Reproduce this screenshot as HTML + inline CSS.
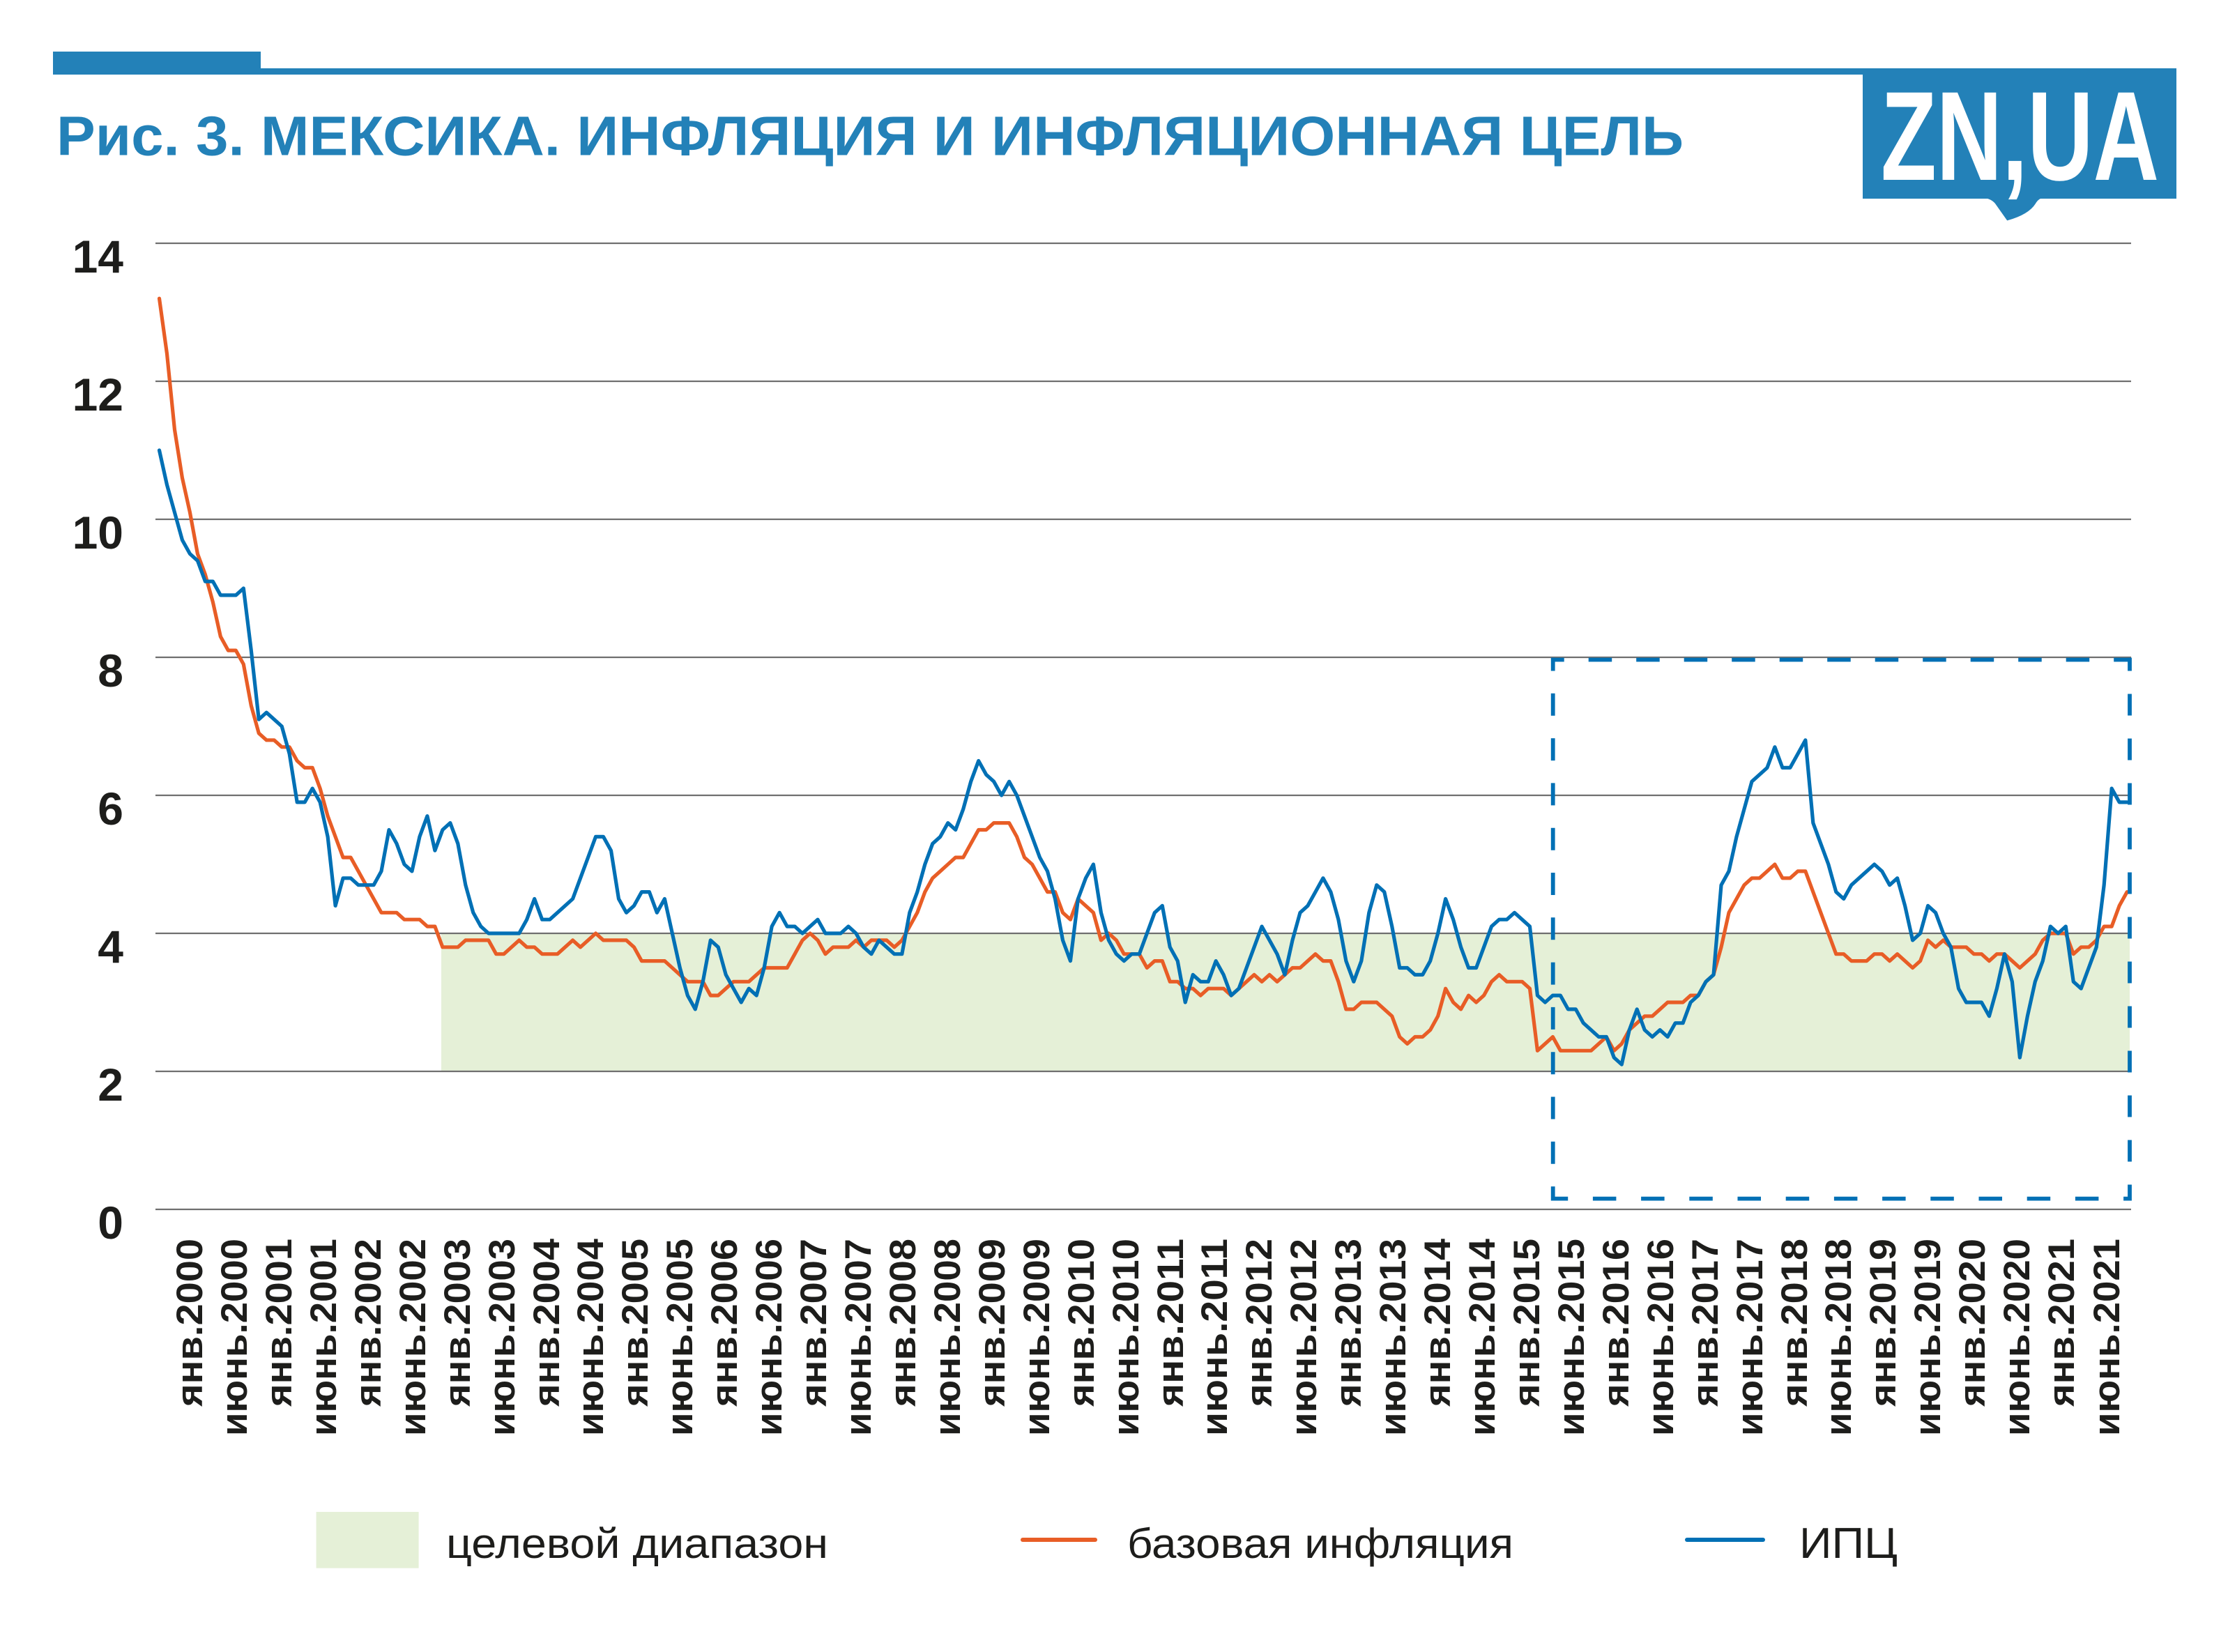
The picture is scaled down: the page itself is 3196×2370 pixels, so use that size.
<!DOCTYPE html>
<html>
<head>
<meta charset="utf-8">
<style>
  html, body { margin: 0; padding: 0; background: #ffffff; }
  svg { display: block; }
  text { font-family: "Liberation Sans", "DejaVu Sans", sans-serif; }
</style>
</head>
<body>
<svg xmlns="http://www.w3.org/2000/svg" width="3196" height="2370" viewBox="0 0 3196 2370">
  <rect x="0" y="0" width="3196" height="2370" fill="#ffffff"/>

  <!-- Header bar -->
  <rect x="76" y="74" width="298" height="33" fill="#2381b8"/>
  <rect x="76" y="98" width="3046" height="9" fill="#2381b8"/>

  <!-- Logo -->
  <rect x="2672" y="98" width="450" height="187" fill="#2381b8"/>
  <path d="M2846,284 Q2856,285 2862,292 L2879.2,316.4 Q2910,308 2920,292 Q2924,285 2930,284 Z" fill="#2381b8"/>
  <text x="2698" y="258" font-size="182" font-weight="bold" fill="#ffffff" textLength="399" lengthAdjust="spacingAndGlyphs">ZN,UA</text>

  <!-- Title -->
  <text x="81" y="222.6" font-size="80" font-weight="bold" fill="#2381b8" textLength="2334" lengthAdjust="spacingAndGlyphs">Рис. 3. МЕКСИКА. ИНФЛЯЦИЯ И ИНФЛЯЦИОННАЯ ЦЕЛЬ</text>

  <!-- Target range -->
  <rect x="633" y="1338.7" width="2422" height="198.3" fill="#e5f0d7"/>

  <!-- Gridlines -->
  <g stroke="#6f6f6f" stroke-width="2.2">
    <line x1="223" y1="349" x2="3057" y2="349"/>
    <line x1="223" y1="547" x2="3057" y2="547"/>
    <line x1="223" y1="745" x2="3057" y2="745"/>
    <line x1="223" y1="943" x2="3057" y2="943"/>
    <line x1="223" y1="1141" x2="3057" y2="1141"/>
    <line x1="223" y1="1339" x2="3057" y2="1339"/>
    <line x1="223" y1="1537" x2="3057" y2="1537"/>
    <line x1="223" y1="1735" x2="3057" y2="1735"/>
  </g>

  <!-- Y labels -->
  <g font-size="66" font-weight="bold" fill="#1d1d1b" text-anchor="end">
    <text x="177" y="391">14</text>
    <text x="177" y="589">12</text>
    <text x="177" y="787">10</text>
    <text x="177" y="985">8</text>
    <text x="177" y="1183">6</text>
    <text x="177" y="1381">4</text>
    <text x="177" y="1579">2</text>
    <text x="177" y="1777">0</text>
  </g>

  <!-- Series -->
  <g transform="matrix(10.983 0 0 -99 228.5 1735)" fill="none" stroke-linejoin="round" stroke-linecap="round">
    <polyline vector-effect="non-scaling-stroke" stroke="#e85d26" stroke-width="5.2" points="0,13.2 1,12.4 2,11.3 3,10.6 4,10.1 5,9.5 6,9.2 7,8.8 8,8.3 9,8.1 10,8.1 11,7.9 12,7.3 13,6.9 14,6.8 15,6.8 16,6.7 17,6.7 18,6.5 19,6.4 20,6.4 21,6.1 22,5.7 23,5.4 24,5.1 25,5.1 26,4.9 27,4.7 28,4.5 29,4.3 30,4.3 31,4.3 32,4.2 33,4.2 34,4.2 35,4.1 36,4.1 37,3.8 38,3.8 39,3.8 40,3.9 41,3.9 42,3.9 43,3.9 44,3.7 45,3.7 46,3.8 47,3.9 48,3.8 49,3.8 50,3.7 51,3.7 52,3.7 53,3.8 54,3.9 55,3.8 56,3.9 57,4.0 58,3.9 59,3.9 60,3.9 61,3.9 62,3.8 63,3.6 64,3.6 65,3.6 66,3.6 67,3.5 68,3.4 69,3.3 70,3.3 71,3.3 72,3.1 73,3.1 74,3.2 75,3.3 76,3.3 77,3.3 78,3.4 79,3.5 80,3.5 81,3.5 82,3.5 83,3.7 84,3.9 85,4.0 86,3.9 87,3.7 88,3.8 89,3.8 90,3.8 91,3.9 92,3.8 93,3.9 94,3.9 95,3.9 96,3.8 97,3.9 98,4.1 99,4.3 100,4.6 101,4.8 102,4.9 103,5.0 104,5.1 105,5.1 106,5.3 107,5.5 108,5.5 109,5.6 110,5.6 111,5.6 112,5.4 113,5.1 114,5.0 115,4.8 116,4.6 117,4.6 118,4.3 119,4.2 120,4.5 121,4.4 122,4.3 123,3.9 124,4.0 125,3.9 126,3.7 127,3.7 128,3.7 129,3.5 130,3.6 131,3.6 132,3.3 133,3.3 134,3.2 135,3.2 136,3.1 137,3.2 138,3.2 139,3.2 140,3.1 141,3.2 142,3.3 143,3.4 144,3.3 145,3.4 146,3.3 147,3.4 148,3.5 149,3.5 150,3.6 151,3.7 152,3.6 153,3.6 154,3.3 155,2.9 156,2.9 157,3.0 158,3.0 159,3.0 160,2.9 161,2.8 162,2.5 163,2.4 164,2.5 165,2.5 166,2.6 167,2.8 168,3.2 169,3.0 170,2.9 171,3.1 172,3.0 173,3.1 174,3.3 175,3.4 176,3.3 177,3.3 178,3.3 179,3.2 180,2.3 181,2.4 182,2.5 183,2.3 184,2.3 185,2.3 186,2.3 187,2.3 188,2.4 189,2.5 190,2.3 191,2.4 192,2.6 193,2.7 194,2.8 195,2.8 196,2.9 197,3.0 198,3.0 199,3.0 200,3.1 201,3.1 202,3.3 203,3.4 204,3.8 205,4.3 206,4.5 207,4.7 208,4.8 209,4.8 210,4.9 211,5.0 212,4.8 213,4.8 214,4.9 215,4.9 216,4.6 217,4.3 218,4.0 219,3.7 220,3.7 221,3.6 222,3.6 223,3.6 224,3.7 225,3.7 226,3.6 227,3.7 228,3.6 229,3.5 230,3.6 231,3.9 232,3.8 233,3.9 234,3.8 235,3.8 236,3.8 237,3.7 238,3.7 239,3.6 240,3.7 241,3.7 242,3.6 243,3.5 244,3.6 245,3.7 246,3.9 247,4.0 248,4.0 249,4.0 250,3.7 251,3.8 252,3.8 253,3.9 254,4.1 255,4.1 256,4.4 257,4.6"/>
    <polyline vector-effect="non-scaling-stroke" stroke="#0070b5" stroke-width="5.2" points="0,11.0 1,10.5 2,10.1 3,9.7 4,9.5 5,9.4 6,9.1 7,9.1 8,8.9 9,8.9 10,8.9 11,9.0 12,8.1 13,7.1 14,7.2 15,7.1 16,7.0 17,6.6 18,5.9 19,5.9 20,6.1 21,5.9 22,5.4 23,4.4 24,4.8 25,4.8 26,4.7 27,4.7 28,4.7 29,4.9 30,5.5 31,5.3 32,5.0 33,4.9 34,5.4 35,5.7 36,5.2 37,5.5 38,5.6 39,5.3 40,4.7 41,4.3 42,4.1 43,4.0 44,4.0 45,4.0 46,4.0 47,4.0 48,4.2 49,4.5 50,4.2 51,4.2 52,4.3 53,4.4 54,4.5 55,4.8 56,5.1 57,5.4 58,5.4 59,5.2 60,4.5 61,4.3 62,4.4 63,4.6 64,4.6 65,4.3 66,4.5 67,4.0 68,3.5 69,3.1 70,2.9 71,3.3 72,3.9 73,3.8 74,3.4 75,3.2 76,3.0 77,3.2 78,3.1 79,3.5 80,4.1 81,4.3 82,4.1 83,4.1 84,4.0 85,4.1 86,4.2 87,4.0 88,4.0 89,4.0 90,4.1 91,4.0 92,3.8 93,3.7 94,3.9 95,3.8 96,3.7 97,3.7 98,4.3 99,4.6 100,5.0 101,5.3 102,5.4 103,5.6 104,5.5 105,5.8 106,6.2 107,6.5 108,6.3 109,6.2 110,6.0 111,6.2 112,6.0 113,5.7 114,5.4 115,5.1 116,4.9 117,4.5 118,3.9 119,3.6 120,4.5 121,4.8 122,5.0 123,4.3 124,3.9 125,3.7 126,3.6 127,3.7 128,3.7 129,4.0 130,4.3 131,4.4 132,3.8 133,3.6 134,3.0 135,3.4 136,3.3 137,3.3 138,3.6 139,3.4 140,3.1 141,3.2 142,3.5 143,3.8 144,4.1 145,3.9 146,3.7 147,3.4 148,3.9 149,4.3 150,4.4 151,4.6 152,4.8 153,4.6 154,4.2 155,3.6 156,3.3 157,3.6 158,4.3 159,4.7 160,4.6 161,4.1 162,3.5 163,3.5 164,3.4 165,3.4 166,3.6 167,4.0 168,4.5 169,4.2 170,3.8 171,3.5 172,3.5 173,3.8 174,4.1 175,4.2 176,4.2 177,4.3 178,4.2 179,4.1 180,3.1 181,3.0 182,3.1 183,3.1 184,2.9 185,2.9 186,2.7 187,2.6 188,2.5 189,2.5 190,2.2 191,2.1 192,2.6 193,2.9 194,2.6 195,2.5 196,2.6 197,2.5 198,2.7 199,2.7 200,3.0 201,3.1 202,3.3 203,3.4 204,4.7 205,4.9 206,5.4 207,5.8 208,6.2 209,6.3 210,6.4 211,6.7 212,6.4 213,6.4 214,6.6 215,6.8 216,5.6 217,5.3 218,5.0 219,4.6 220,4.5 221,4.7 222,4.8 223,4.9 224,5.0 225,4.9 226,4.7 227,4.8 228,4.4 229,3.9 230,4.0 231,4.4 232,4.3 233,4.0 234,3.8 235,3.2 236,3.0 237,3.0 238,3.0 239,2.8 240,3.2 241,3.7 242,3.3 243,2.2 244,2.8 245,3.3 246,3.6 247,4.1 248,4.0 249,4.1 250,3.3 251,3.2 252,3.5 253,3.8 254,4.7 255,6.1 256,5.9 257,5.9"/>
  </g>

  <!-- Dashed highlight box -->
  <g stroke="#0070b5" stroke-width="5.8" fill="none" stroke-linecap="butt">
    <line x1="2227.7" y1="946.5" x2="3055" y2="946.5" stroke-dasharray="33.5 35" stroke-dashoffset="17.5"/>
    <line x1="2227.7" y1="1719.6" x2="3055" y2="1719.6" stroke-dasharray="33.5 35.7" stroke-dashoffset="12"/>
    <line x1="2227.7" y1="943.5" x2="2227.7" y2="1722.5" stroke-dasharray="32 32.3" stroke-dashoffset="13"/>
    <line x1="3055" y1="943.5" x2="3055" y2="1722.5" stroke-dasharray="31 33" stroke-dashoffset="12"/>
  </g>

  <!-- X labels -->
  <g font-size="53" font-weight="bold" fill="#1d1d1b" text-anchor="end">
    <text transform="translate(290,1777) rotate(-90)" textLength="241" lengthAdjust="spacingAndGlyphs">янв.2000</text>
    <text transform="translate(354,1777) rotate(-90)" textLength="283" lengthAdjust="spacingAndGlyphs">июнь.2000</text>
    <text transform="translate(418,1777) rotate(-90)" textLength="241" lengthAdjust="spacingAndGlyphs">янв.2001</text>
    <text transform="translate(482,1777) rotate(-90)" textLength="283" lengthAdjust="spacingAndGlyphs">июнь.2001</text>
    <text transform="translate(546,1777) rotate(-90)" textLength="241" lengthAdjust="spacingAndGlyphs">янв.2002</text>
    <text transform="translate(610,1777) rotate(-90)" textLength="283" lengthAdjust="spacingAndGlyphs">июнь.2002</text>
    <text transform="translate(674,1777) rotate(-90)" textLength="241" lengthAdjust="spacingAndGlyphs">янв.2003</text>
    <text transform="translate(738,1777) rotate(-90)" textLength="283" lengthAdjust="spacingAndGlyphs">июнь.2003</text>
    <text transform="translate(802,1777) rotate(-90)" textLength="241" lengthAdjust="spacingAndGlyphs">янв.2004</text>
    <text transform="translate(865,1777) rotate(-90)" textLength="283" lengthAdjust="spacingAndGlyphs">июнь.2004</text>
    <text transform="translate(929,1777) rotate(-90)" textLength="241" lengthAdjust="spacingAndGlyphs">янв.2005</text>
    <text transform="translate(993,1777) rotate(-90)" textLength="283" lengthAdjust="spacingAndGlyphs">июнь.2005</text>
    <text transform="translate(1057,1777) rotate(-90)" textLength="241" lengthAdjust="spacingAndGlyphs">янв.2006</text>
    <text transform="translate(1121,1777) rotate(-90)" textLength="283" lengthAdjust="spacingAndGlyphs">июнь.2006</text>
    <text transform="translate(1185,1777) rotate(-90)" textLength="241" lengthAdjust="spacingAndGlyphs">янв.2007</text>
    <text transform="translate(1249,1777) rotate(-90)" textLength="283" lengthAdjust="spacingAndGlyphs">июнь.2007</text>
    <text transform="translate(1313,1777) rotate(-90)" textLength="241" lengthAdjust="spacingAndGlyphs">янв.2008</text>
    <text transform="translate(1377,1777) rotate(-90)" textLength="283" lengthAdjust="spacingAndGlyphs">июнь.2008</text>
    <text transform="translate(1441,1777) rotate(-90)" textLength="241" lengthAdjust="spacingAndGlyphs">янв.2009</text>
    <text transform="translate(1505,1777) rotate(-90)" textLength="283" lengthAdjust="spacingAndGlyphs">июнь.2009</text>
    <text transform="translate(1569,1777) rotate(-90)" textLength="241" lengthAdjust="spacingAndGlyphs">янв.2010</text>
    <text transform="translate(1633,1777) rotate(-90)" textLength="283" lengthAdjust="spacingAndGlyphs">июнь.2010</text>
    <text transform="translate(1697,1777) rotate(-90)" textLength="241" lengthAdjust="spacingAndGlyphs">янв.2011</text>
    <text transform="translate(1760,1777) rotate(-90)" textLength="283" lengthAdjust="spacingAndGlyphs">июнь.2011</text>
    <text transform="translate(1824,1777) rotate(-90)" textLength="241" lengthAdjust="spacingAndGlyphs">янв.2012</text>
    <text transform="translate(1888,1777) rotate(-90)" textLength="283" lengthAdjust="spacingAndGlyphs">июнь.2012</text>
    <text transform="translate(1952,1777) rotate(-90)" textLength="241" lengthAdjust="spacingAndGlyphs">янв.2013</text>
    <text transform="translate(2016,1777) rotate(-90)" textLength="283" lengthAdjust="spacingAndGlyphs">июнь.2013</text>
    <text transform="translate(2080,1777) rotate(-90)" textLength="241" lengthAdjust="spacingAndGlyphs">янв.2014</text>
    <text transform="translate(2144,1777) rotate(-90)" textLength="283" lengthAdjust="spacingAndGlyphs">июнь.2014</text>
    <text transform="translate(2208,1777) rotate(-90)" textLength="241" lengthAdjust="spacingAndGlyphs">янв.2015</text>
    <text transform="translate(2272,1777) rotate(-90)" textLength="283" lengthAdjust="spacingAndGlyphs">июнь.2015</text>
    <text transform="translate(2336,1777) rotate(-90)" textLength="241" lengthAdjust="spacingAndGlyphs">янв.2016</text>
    <text transform="translate(2400,1777) rotate(-90)" textLength="283" lengthAdjust="spacingAndGlyphs">июнь.2016</text>
    <text transform="translate(2464,1777) rotate(-90)" textLength="241" lengthAdjust="spacingAndGlyphs">янв.2017</text>
    <text transform="translate(2528,1777) rotate(-90)" textLength="283" lengthAdjust="spacingAndGlyphs">июнь.2017</text>
    <text transform="translate(2592,1777) rotate(-90)" textLength="241" lengthAdjust="spacingAndGlyphs">янв.2018</text>
    <text transform="translate(2655,1777) rotate(-90)" textLength="283" lengthAdjust="spacingAndGlyphs">июнь.2018</text>
    <text transform="translate(2719,1777) rotate(-90)" textLength="241" lengthAdjust="spacingAndGlyphs">янв.2019</text>
    <text transform="translate(2783,1777) rotate(-90)" textLength="283" lengthAdjust="spacingAndGlyphs">июнь.2019</text>
    <text transform="translate(2847,1777) rotate(-90)" textLength="241" lengthAdjust="spacingAndGlyphs">янв.2020</text>
    <text transform="translate(2911,1777) rotate(-90)" textLength="283" lengthAdjust="spacingAndGlyphs">июнь.2020</text>
    <text transform="translate(2975,1777) rotate(-90)" textLength="241" lengthAdjust="spacingAndGlyphs">янв.2021</text>
    <text transform="translate(3040,1777) rotate(-90)" textLength="283" lengthAdjust="spacingAndGlyphs">июнь.2021</text>
  </g>

  <!-- Legend -->
  <rect x="453.6" y="2169" width="147" height="80.7" fill="#e5f0d7"/>
  <text x="640" y="2235" font-size="60" fill="#1d1d1b" textLength="548" lengthAdjust="spacingAndGlyphs">целевой диапазон</text>
  <line x1="1467" y1="2209" x2="1571" y2="2209" stroke="#e85d26" stroke-width="6" stroke-linecap="round"/>
  <text x="1617" y="2235" font-size="60" fill="#1d1d1b" textLength="554" lengthAdjust="spacingAndGlyphs">базовая инфляция</text>
  <line x1="2420" y1="2209" x2="2529" y2="2209" stroke="#0070b5" stroke-width="6" stroke-linecap="round"/>
  <text x="2581" y="2235" font-size="62" fill="#1d1d1b" textLength="141" lengthAdjust="spacingAndGlyphs">ИПЦ</text>
</svg>
</body>
</html>
